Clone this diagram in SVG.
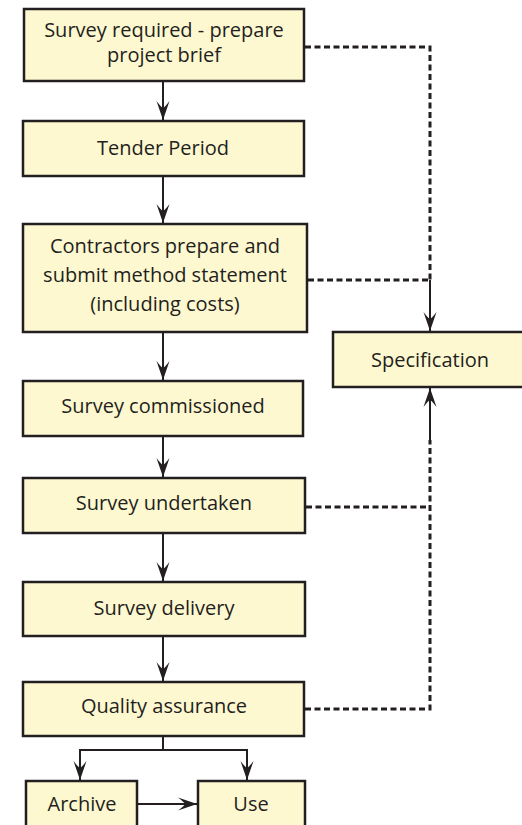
<svg xmlns="http://www.w3.org/2000/svg" width="522" height="825" viewBox="0 0 522 825">
<style>
.box{fill:#FEF8D0;stroke:#231F20;stroke-width:2.5}
.t{font-family:"Open Sans","Liberation Sans",sans-serif;font-size:20px;fill:#231F20;text-anchor:middle}
.ln{fill:none;stroke:#231F20;stroke-width:2}
.dash{fill:none;stroke:#231F20;stroke-width:3;stroke-dasharray:6 3.5}
</style>
<defs>
<marker id="ah" markerUnits="userSpaceOnUse" viewBox="-20 -8 21 16" refX="0" refY="0" markerWidth="21" markerHeight="16" orient="auto">
<path d="M0,0 L-19,-6.5 Q-13,-2 -12,0 Q-13,2 -19,6.5 Z" fill="#231F20"/>
</marker>
</defs>
<rect width="522" height="825" fill="#ffffff"/>
<g id="connectors">
<line class="ln" x1="163" y1="81" x2="163" y2="120" marker-end="url(#ah)"/>
<line class="ln" x1="163" y1="176" x2="163" y2="223" marker-end="url(#ah)"/>
<line class="ln" x1="163" y1="332" x2="163" y2="380" marker-end="url(#ah)"/>
<line class="ln" x1="163" y1="436" x2="163" y2="477" marker-end="url(#ah)"/>
<line class="ln" x1="163" y1="533" x2="163" y2="581" marker-end="url(#ah)"/>
<line class="ln" x1="163" y1="636" x2="163" y2="681" marker-end="url(#ah)"/>
<polyline class="ln" points="163,736 163,750"/>
<polyline class="ln" points="163,750 80,750 80,780" marker-end="url(#ah)"/>
<polyline class="ln" points="163,750 247,750 247,780" marker-end="url(#ah)"/>
<line class="ln" x1="137" y1="804" x2="197" y2="804" marker-end="url(#ah)"/>
<polyline class="dash" points="305,47 430,47 430,280"/>
<line class="dash" x1="308" y1="280" x2="430" y2="280"/>
<line class="ln" x1="430" y1="280" x2="430" y2="331" marker-end="url(#ah)"/>
<line class="dash" x1="306" y1="507" x2="430" y2="507"/>
<polyline class="dash" points="305,709 430,709 430,440"/>
<line class="ln" x1="430" y1="440" x2="430" y2="388" marker-end="url(#ah)"/>
</g>
<g id="n1"><rect class="box" x="24" y="9" width="280" height="72"/><text class="t" x="164" y="37">Survey required - prepare</text><text class="t" x="164" y="62">project brief</text></g>
<g id="n2"><rect class="box" x="23" y="121" width="281" height="55"/><text class="t" x="163" y="155">Tender Period</text></g>
<g id="n3"><rect class="box" x="23" y="224" width="284" height="108"/><text class="t" x="165" y="253">Contractors prepare and</text><text class="t" x="165" y="282">submit method statement</text><text class="t" x="165" y="311">(including costs)</text></g>
<g id="n4"><rect class="box" x="23" y="381" width="280" height="55"/><text class="t" x="163" y="413">Survey commissioned</text></g>
<g id="n5"><rect class="box" x="23" y="478" width="282" height="55"/><text class="t" x="164" y="510">Survey undertaken</text></g>
<g id="n6"><rect class="box" x="23" y="582" width="282" height="54"/><text class="t" x="164" y="615">Survey delivery</text></g>
<g id="n7"><rect class="box" x="23" y="682" width="281" height="54"/><text class="t" x="164" y="713">Quality assurance</text></g>
<g id="n8"><rect class="box" x="26" y="781" width="111" height="60"/><text class="t" x="82" y="811">Archive</text></g>
<g id="n9"><rect class="box" x="198" y="781" width="107" height="60"/><text class="t" x="251" y="811">Use</text></g>
<g id="n10"><rect class="box" x="333" y="332" width="192" height="55"/><text class="t" x="430" y="367">Specification</text></g>
</svg>
